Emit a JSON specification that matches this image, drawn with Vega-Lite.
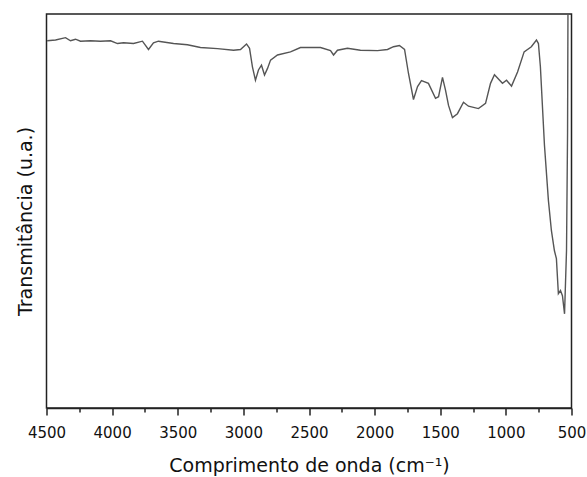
{
  "$schema": "https://vega.github.io/schema/vega-lite/v6.json",
  "width": 525,
  "height": 394,
  "autosize": {"type": "none"},
  "padding": {"left": 46.5, "top": 14, "right": 15.5, "bottom": 69},
  "background": "white",
  "config": {
    "view": {"stroke": "#222222", "strokeWidth": 1.5},
    "font": "DejaVu Sans"
  },
  "data": {
    "values": [
      {"wn": 4495, "t": 93.2}, {"wn": 4431, "t": 93.4}, {"wn": 4355, "t": 94.0}, {"wn": 4317, "t": 93.2},
      {"wn": 4279, "t": 93.6}, {"wn": 4241, "t": 93.1}, {"wn": 4165, "t": 93.2}, {"wn": 4089, "t": 93.1},
      {"wn": 4012, "t": 93.2}, {"wn": 3959, "t": 92.5}, {"wn": 3913, "t": 92.7}, {"wn": 3837, "t": 92.5},
      {"wn": 3769, "t": 93.1}, {"wn": 3723, "t": 91.0}, {"wn": 3685, "t": 92.7}, {"wn": 3647, "t": 93.1},
      {"wn": 3532, "t": 92.5}, {"wn": 3426, "t": 92.2}, {"wn": 3327, "t": 91.5}, {"wn": 3197, "t": 91.2},
      {"wn": 3075, "t": 90.8}, {"wn": 3022, "t": 91.0}, {"wn": 2976, "t": 92.4}, {"wn": 2953, "t": 91.3},
      {"wn": 2931, "t": 86.6}, {"wn": 2908, "t": 83.2}, {"wn": 2885, "t": 85.8}, {"wn": 2862, "t": 87.0},
      {"wn": 2839, "t": 84.5}, {"wn": 2816, "t": 86.2}, {"wn": 2793, "t": 88.3}, {"wn": 2740, "t": 89.6},
      {"wn": 2641, "t": 90.4}, {"wn": 2565, "t": 91.5}, {"wn": 2412, "t": 91.5}, {"wn": 2336, "t": 90.7},
      {"wn": 2313, "t": 89.6}, {"wn": 2283, "t": 90.8}, {"wn": 2207, "t": 91.3}, {"wn": 2108, "t": 90.8},
      {"wn": 1978, "t": 90.7}, {"wn": 1902, "t": 91.0}, {"wn": 1856, "t": 91.7}, {"wn": 1811, "t": 92.0},
      {"wn": 1772, "t": 91.0}, {"wn": 1742, "t": 84.9}, {"wn": 1704, "t": 78.3}, {"wn": 1673, "t": 81.6},
      {"wn": 1643, "t": 83.1}, {"wn": 1590, "t": 82.4}, {"wn": 1536, "t": 78.6}, {"wn": 1513, "t": 79.0},
      {"wn": 1483, "t": 83.9}, {"wn": 1460, "t": 80.7}, {"wn": 1437, "t": 76.8}, {"wn": 1407, "t": 73.7},
      {"wn": 1369, "t": 74.7}, {"wn": 1323, "t": 77.6}, {"wn": 1285, "t": 76.6}, {"wn": 1209, "t": 76.0},
      {"wn": 1155, "t": 77.3}, {"wn": 1117, "t": 82.4}, {"wn": 1087, "t": 84.6}, {"wn": 1026, "t": 82.4},
      {"wn": 995, "t": 83.2}, {"wn": 957, "t": 81.7}, {"wn": 911, "t": 85.3}, {"wn": 861, "t": 90.4},
      {"wn": 806, "t": 91.7}, {"wn": 767, "t": 93.4}, {"wn": 752, "t": 92.5}, {"wn": 737, "t": 86.6},
      {"wn": 706, "t": 66.7}, {"wn": 676, "t": 52.7}, {"wn": 653, "t": 45.0}, {"wn": 630, "t": 39.9},
      {"wn": 615, "t": 37.9}, {"wn": 600, "t": 29.0}, {"wn": 584, "t": 29.8}, {"wn": 569, "t": 28.5},
      {"wn": 553, "t": 23.9}, {"wn": 538, "t": 40.0}, {"wn": 530, "t": 70.0}, {"wn": 527, "t": 100.0}
    ]
  },
  "mark": {"type": "line", "color": "#555555", "strokeWidth": 1.4, "clip": true},
  "encoding": {
    "x": {
      "field": "wn",
      "type": "quantitative",
      "scale": {"domain": [500, 4500], "reverse": true, "nice": false},
      "axis": {
        "orient": "bottom",
        "values": [4500, 4250, 4000, 3750, 3500, 3250, 3000, 2750, 2500, 2250, 2000, 1750, 1500, 1250, 1000, 750, 500],
        "labelExpr": "datum.value % 500 === 0 ? format(datum.value, 'd') : ''",
        "grid": false,
        "domainColor": "#222222",
        "domainWidth": 1.5,
        "tickColor": "#222222",
        "tickWidth": 1.5,
        "tickSize": {"condition": {"test": "datum.value % 500 === 0", "value": 7}, "value": 4},
        "labelFontSize": 15,
        "labelColor": "#111111",
        "labelPadding": 10,
        "labelFlush": false,
        "labelOverlap": false,
        "title": "Comprimento de onda (cm⁻¹)",
        "titleFontSize": 19,
        "titleFontWeight": "normal",
        "titleColor": "#111111",
        "titleBaseline": "alphabetic",
        "titleY": 63
      }
    },
    "y": {
      "field": "t",
      "type": "quantitative",
      "scale": {"domain": [0, 100], "nice": false},
      "axis": {
        "labels": false,
        "ticks": false,
        "domain": false,
        "grid": false,
        "title": "Transmitância (u.a.)",
        "titleFontSize": 19,
        "titleFontWeight": "normal",
        "titleColor": "#111111",
        "titleAngle": -90,
        "titleAlign": "center",
        "titleBaseline": "alphabetic",
        "titleX": -15,
        "titleY": 207
      }
    }
  }
}
